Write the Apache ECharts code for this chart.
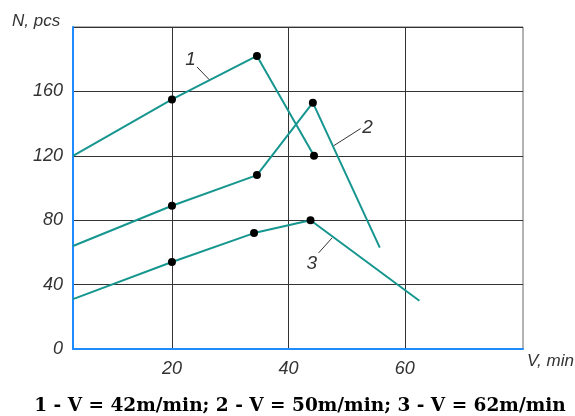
<!DOCTYPE html>
<html>
<head>
<meta charset="utf-8">
<script src="https://cdn.jsdelivr.net/npm/echarts@6/dist/echarts.min.js"></script>
<style>
html,body{margin:0;padding:0;background:#fff;}
#chart{width:575px;height:416px;}
</style>
</head>
<body>
<div id="chart"></div>
<script>
// ---- data ----
const xMin = 3, xMax = 80.3;
const xTicks = [20, 40, 60];
const yMin = 0, yMax = 200, yStep = 40;
const yTicks = [0, 40, 80, 120, 160];
const curve1 = [[3, 120], [20, 155], [34.6, 182], [44.4, 120]];
const curve2 = [[3, 64], [20, 89], [34.6, 108], [44.2, 153], [55.7, 63]];
const curve3 = [[3, 31], [20, 54], [34.1, 72], [43.8, 80], [62.5, 30]];
const measured1 = [1, 2, 3];
const measured2 = [1, 2, 3];
const measured3 = [1, 2, 3];
const curveNames = ['1', '2', '3'];
const curveLabelAt = [[23.2, 179.6], [53.6, 137.2], [44.0, 52.7]];
const leaderFrom = [[24.3, 175.2], [52.4, 136.9], [45.2, 59.7]];
const leaderTo = [[26.4, 167.3], [47.8, 126.3], [47.5, 69]];
const yName = 'N, pcs';
const xName = 'V, min';
const caption = '1 - V = 42m/min; 2 - V = 50m/min; 3 - V = 62m/min';

const FONT = "'Liberation Sans Narrow','Liberation Sans',Arial,sans-serif";
const LINE = '#16968f';

function mkData(arr, marked) {
  return arr.map((p, i) => ({ value: p, symbol: marked.includes(i) ? 'circle' : 'none' }));
}
function mkSeries(name, arr, marked) {
  return {
    name: name, type: 'line', data: mkData(arr, marked),
    symbolSize: 8, showAllSymbol: true,
    lineStyle: { color: LINE, width: 2 },
    itemStyle: { color: '#000' },
    emphasis: { disabled: true },
    animation: false, z: 3
  };
}

const chart = echarts.init(document.getElementById('chart'));
chart.setOption({
  animation: false,
  grid: { left: 73, right: 52, top: 27, bottom: 67, show: true, borderColor: '#666', borderWidth: 1 },
  xAxis: {
    type: 'value', min: xMin, max: xMax,
    axisLine: { show: true, lineStyle: { color: '#1e8cff', width: 2 } },
    axisTick: { show: false, customValues: xTicks },
    axisLabel: { customValues: xTicks, margin: 11, fontStyle: 'italic', fontFamily: FONT, fontSize: 18, color: '#333' },
    splitLine: { show: true, lineStyle: { color: '#333', width: 1 } }
  },
  yAxis: {
    type: 'value', min: yMin, max: yMax, interval: yStep,
    axisLine: { show: true, lineStyle: { color: '#1e8cff', width: 2 } },
    axisTick: { show: false },
    axisLabel: {
      margin: 10, fontStyle: 'italic', fontFamily: FONT, fontSize: 18, color: '#333',
      formatter: v => yTicks.includes(v) ? String(v) : ''
    },
    splitLine: { show: true, lineStyle: { color: '#333', width: 1 } }
  },
  series: [
    mkSeries(curveNames[0], curve1, measured1),
    mkSeries(curveNames[1], curve2, measured2),
    mkSeries(curveNames[2], curve3, measured3)
  ]
});

const g = [];
for (let i = 0; i < curveNames.length; i++) {
  const a = chart.convertToPixel({ gridIndex: 0 }, leaderFrom[i]);
  const b = chart.convertToPixel({ gridIndex: 0 }, leaderTo[i]);
  g.push({ type: 'line', shape: { x1: a[0], y1: a[1], x2: b[0], y2: b[1] }, style: { stroke: '#333', lineWidth: 1 }, z: 5 });
  const t = chart.convertToPixel({ gridIndex: 0 }, curveLabelAt[i]);
  g.push({ type: 'text', x: t[0], y: t[1], style: { text: curveNames[i], font: 'italic 19px ' + FONT, fill: '#333', align: 'center', verticalAlign: 'middle' }, z: 5 });
}
g.push({ type: 'text', x: 12, y: 21, style: { text: yName, font: 'italic 17px ' + FONT, fill: '#333', verticalAlign: 'middle' } });
g.push({ type: 'text', x: 527, y: 361, style: { text: xName, font: 'italic 17px ' + FONT, fill: '#333', verticalAlign: 'middle' } });
g.push({ type: 'text', x: 300, y: 406, style: { text: caption, font: "bold 18.5px 'DejaVu Serif','Liberation Serif',serif", fill: '#000', align: 'center', verticalAlign: 'middle' } });
chart.setOption({ graphic: g });
</script>
</body>
</html>
